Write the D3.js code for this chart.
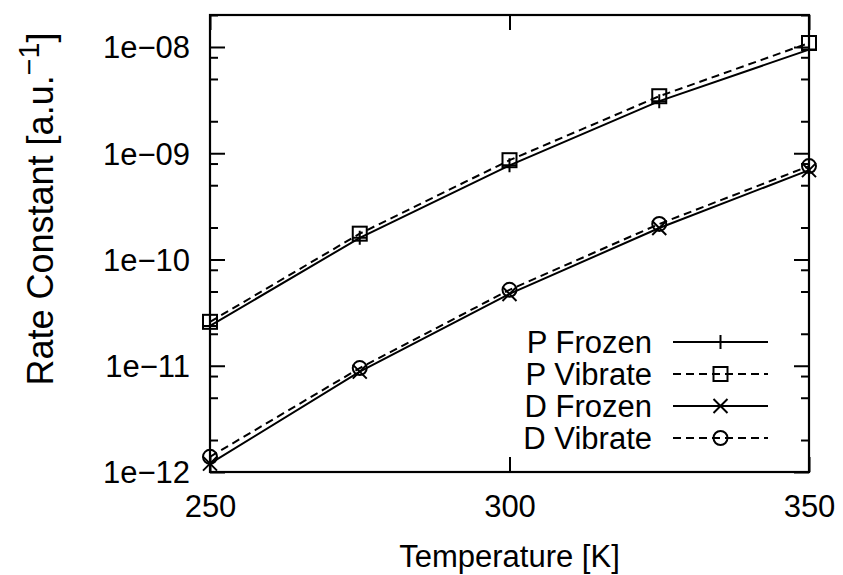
<!DOCTYPE html>
<html><head><meta charset="utf-8">
<script src="https://cdn.jsdelivr.net/npm/d3@7"></script>
<style>
body{margin:0;background:#fff;}
text{font-family:"Liberation Sans",Arial,Helvetica,sans-serif;fill:#000;}
</style></head>
<body><svg id="c" width="843" height="575"></svg>
<script>
const temps = [250, 275, 300, 325, 350];
const pFrozen  = [2.37e-11, 1.60e-10, 7.7e-10, 3.09e-9, 9.45e-9];
const pVibrate = [2.59e-11, 1.75e-10, 8.6e-10, 3.44e-9, 1.09e-8];
const dFrozen  = [1.20e-12, 8.8e-12, 4.74e-11, 1.98e-10, 6.93e-10];
const dVibrate = [1.39e-12, 9.5e-12, 5.18e-11, 2.16e-10, 7.57e-10];
const seriesNames = ["P Frozen", "P Vibrate", "D Frozen", "D Vibrate"];
const xTicks = [250, 300, 350];
const yTicks = [1e-12, 1e-11, 1e-10, 1e-9, 1e-8];
const yTickLabels = ["1e\u221212", "1e\u221211", "1e\u221210", "1e\u221209", "1e\u221208"];
const yMinorMult = [2, 5, 8];
const xTitle = "Temperature [K]";
const yTitle = "Rate Constant [a.u.";
const yTitleSup = "\u22121";

const L = 210, R = 809, T = 15, B = 472;
const FS = 31;
const svg = d3.select("#c");
const x = d3.scaleLinear().domain([250, 350]).range([L, R]);
const y = d3.scaleLog().domain([1e-12, 2e-8]).range([B, T]);

const yMinor = [];
yTicks.forEach(t => yMinorMult.forEach(m => { const v = t * m; if (v <= 2e-8) yMinor.push(v); }));

function styleAxis(g){
  g.select(".domain").remove();
  g.selectAll(".tick line").attr("stroke", "#000").attr("stroke-width", 2);
}
// left axis
svg.append("g").attr("transform", `translate(${L},0)`)
  .call(d3.axisLeft(y).tickValues(yTicks).tickSize(-15).tickPadding(36)
    .tickFormat((d, i) => yTickLabels[i]))
  .call(styleAxis)
  .call(g => g.selectAll("text").attr("font-size", FS).attr("font-family", null).attr("dy", "0.35em").attr("x", -20));
svg.append("g").attr("transform", `translate(${L},0)`)
  .call(d3.axisLeft(y).tickValues(yMinor).tickSize(-8).tickFormat(""))
  .call(styleAxis);
// right axis
svg.append("g").attr("transform", `translate(${R},0)`)
  .call(d3.axisRight(y).tickValues(yTicks).tickSize(-15).tickFormat(""))
  .call(styleAxis);
svg.append("g").attr("transform", `translate(${R},0)`)
  .call(d3.axisRight(y).tickValues(yMinor).tickSize(-8).tickFormat(""))
  .call(styleAxis);
// bottom axis
svg.append("g").attr("transform", `translate(0,${B})`)
  .call(d3.axisBottom(x).tickValues(xTicks).tickSize(-15).tickFormat(d3.format("d")))
  .call(styleAxis)
  .call(g => g.selectAll("text").attr("font-size", FS).attr("font-family", null).attr("y", 45).attr("dy", 0));
// top axis
svg.append("g").attr("transform", `translate(0,${T})`)
  .call(d3.axisTop(x).tickValues(xTicks).tickSize(-15).tickFormat(""))
  .call(styleAxis);

// frame
svg.append("rect").attr("x", L).attr("y", T).attr("width", R - L).attr("height", B - T)
  .attr("fill", "none").attr("stroke", "#000").attr("stroke-width", 2.2);

const series = [
  {name: seriesNames[0], vals: pFrozen, dash: null, mark: "plus"},
  {name: seriesNames[1], vals: pVibrate, dash: "8,5", mark: "square"},
  {name: seriesNames[2], vals: dFrozen, dash: null, mark: "cross"},
  {name: seriesNames[3], vals: dVibrate, dash: "8,5", mark: "circle"}
];

function drawMark(g, type, cx, cy){
  const s = 7;
  if (type === "plus") {
    g.append("path").attr("d", `M${cx-s},${cy}H${cx+s}M${cx},${cy-s}V${cy+s}`);
  } else if (type === "cross") {
    g.append("path").attr("d", `M${cx-s},${cy-s}L${cx+s},${cy+s}M${cx-s},${cy+s}L${cx+s},${cy-s}`);
  } else if (type === "square") {
    g.append("rect").attr("x", cx - s).attr("y", cy - s).attr("width", 2*s).attr("height", 2*s).attr("fill", "none");
  } else if (type === "circle") {
    g.append("circle").attr("cx", cx).attr("cy", cy).attr("r", s).attr("fill", "none");
  }
}

const line = d3.line().x((d, i) => x(temps[i])).y(d => y(d));
series.forEach(s => {
  svg.append("path").datum(s.vals).attr("d", line)
    .attr("fill", "none").attr("stroke", "#000").attr("stroke-width", 2)
    .attr("stroke-dasharray", s.dash);
  const g = svg.append("g").attr("stroke", "#000").attr("stroke-width", 2).attr("fill", "none");
  s.vals.forEach((v, i) => drawMark(g, s.mark, x(temps[i]), y(v)));
});

// legend
const legX = 652, legY0 = 342, legDy = 32;
series.forEach((s, i) => {
  const yy = legY0 + i * legDy;
  svg.append("text").attr("x", legX).attr("y", yy).attr("dy", "0.35em")
    .attr("text-anchor", "end").attr("font-size", FS).text(s.name);
  svg.append("line").attr("x1", 673).attr("x2", 768).attr("y1", yy).attr("y2", yy)
    .attr("stroke", "#000").attr("stroke-width", 2).attr("stroke-dasharray", s.dash);
  const g = svg.append("g").attr("stroke", "#000").attr("stroke-width", 2).attr("fill", "none");
  drawMark(g, s.mark, 720.5, yy);
});

// titles
svg.append("text").attr("x", (L + R) / 2).attr("y", 567).attr("text-anchor", "middle")
  .attr("font-size", FS).text(xTitle);
const YFS = 36;
const yt = svg.append("text").attr("transform", "translate(53,209) rotate(-90)")
  .attr("text-anchor", "middle").attr("font-size", YFS);
yt.append("tspan").text(yTitle);
yt.append("tspan").attr("font-size", YFS * 0.8).attr("dy", -14).text(yTitleSup);
yt.append("tspan").attr("dy", 14).text("]");
</script></body></html>
